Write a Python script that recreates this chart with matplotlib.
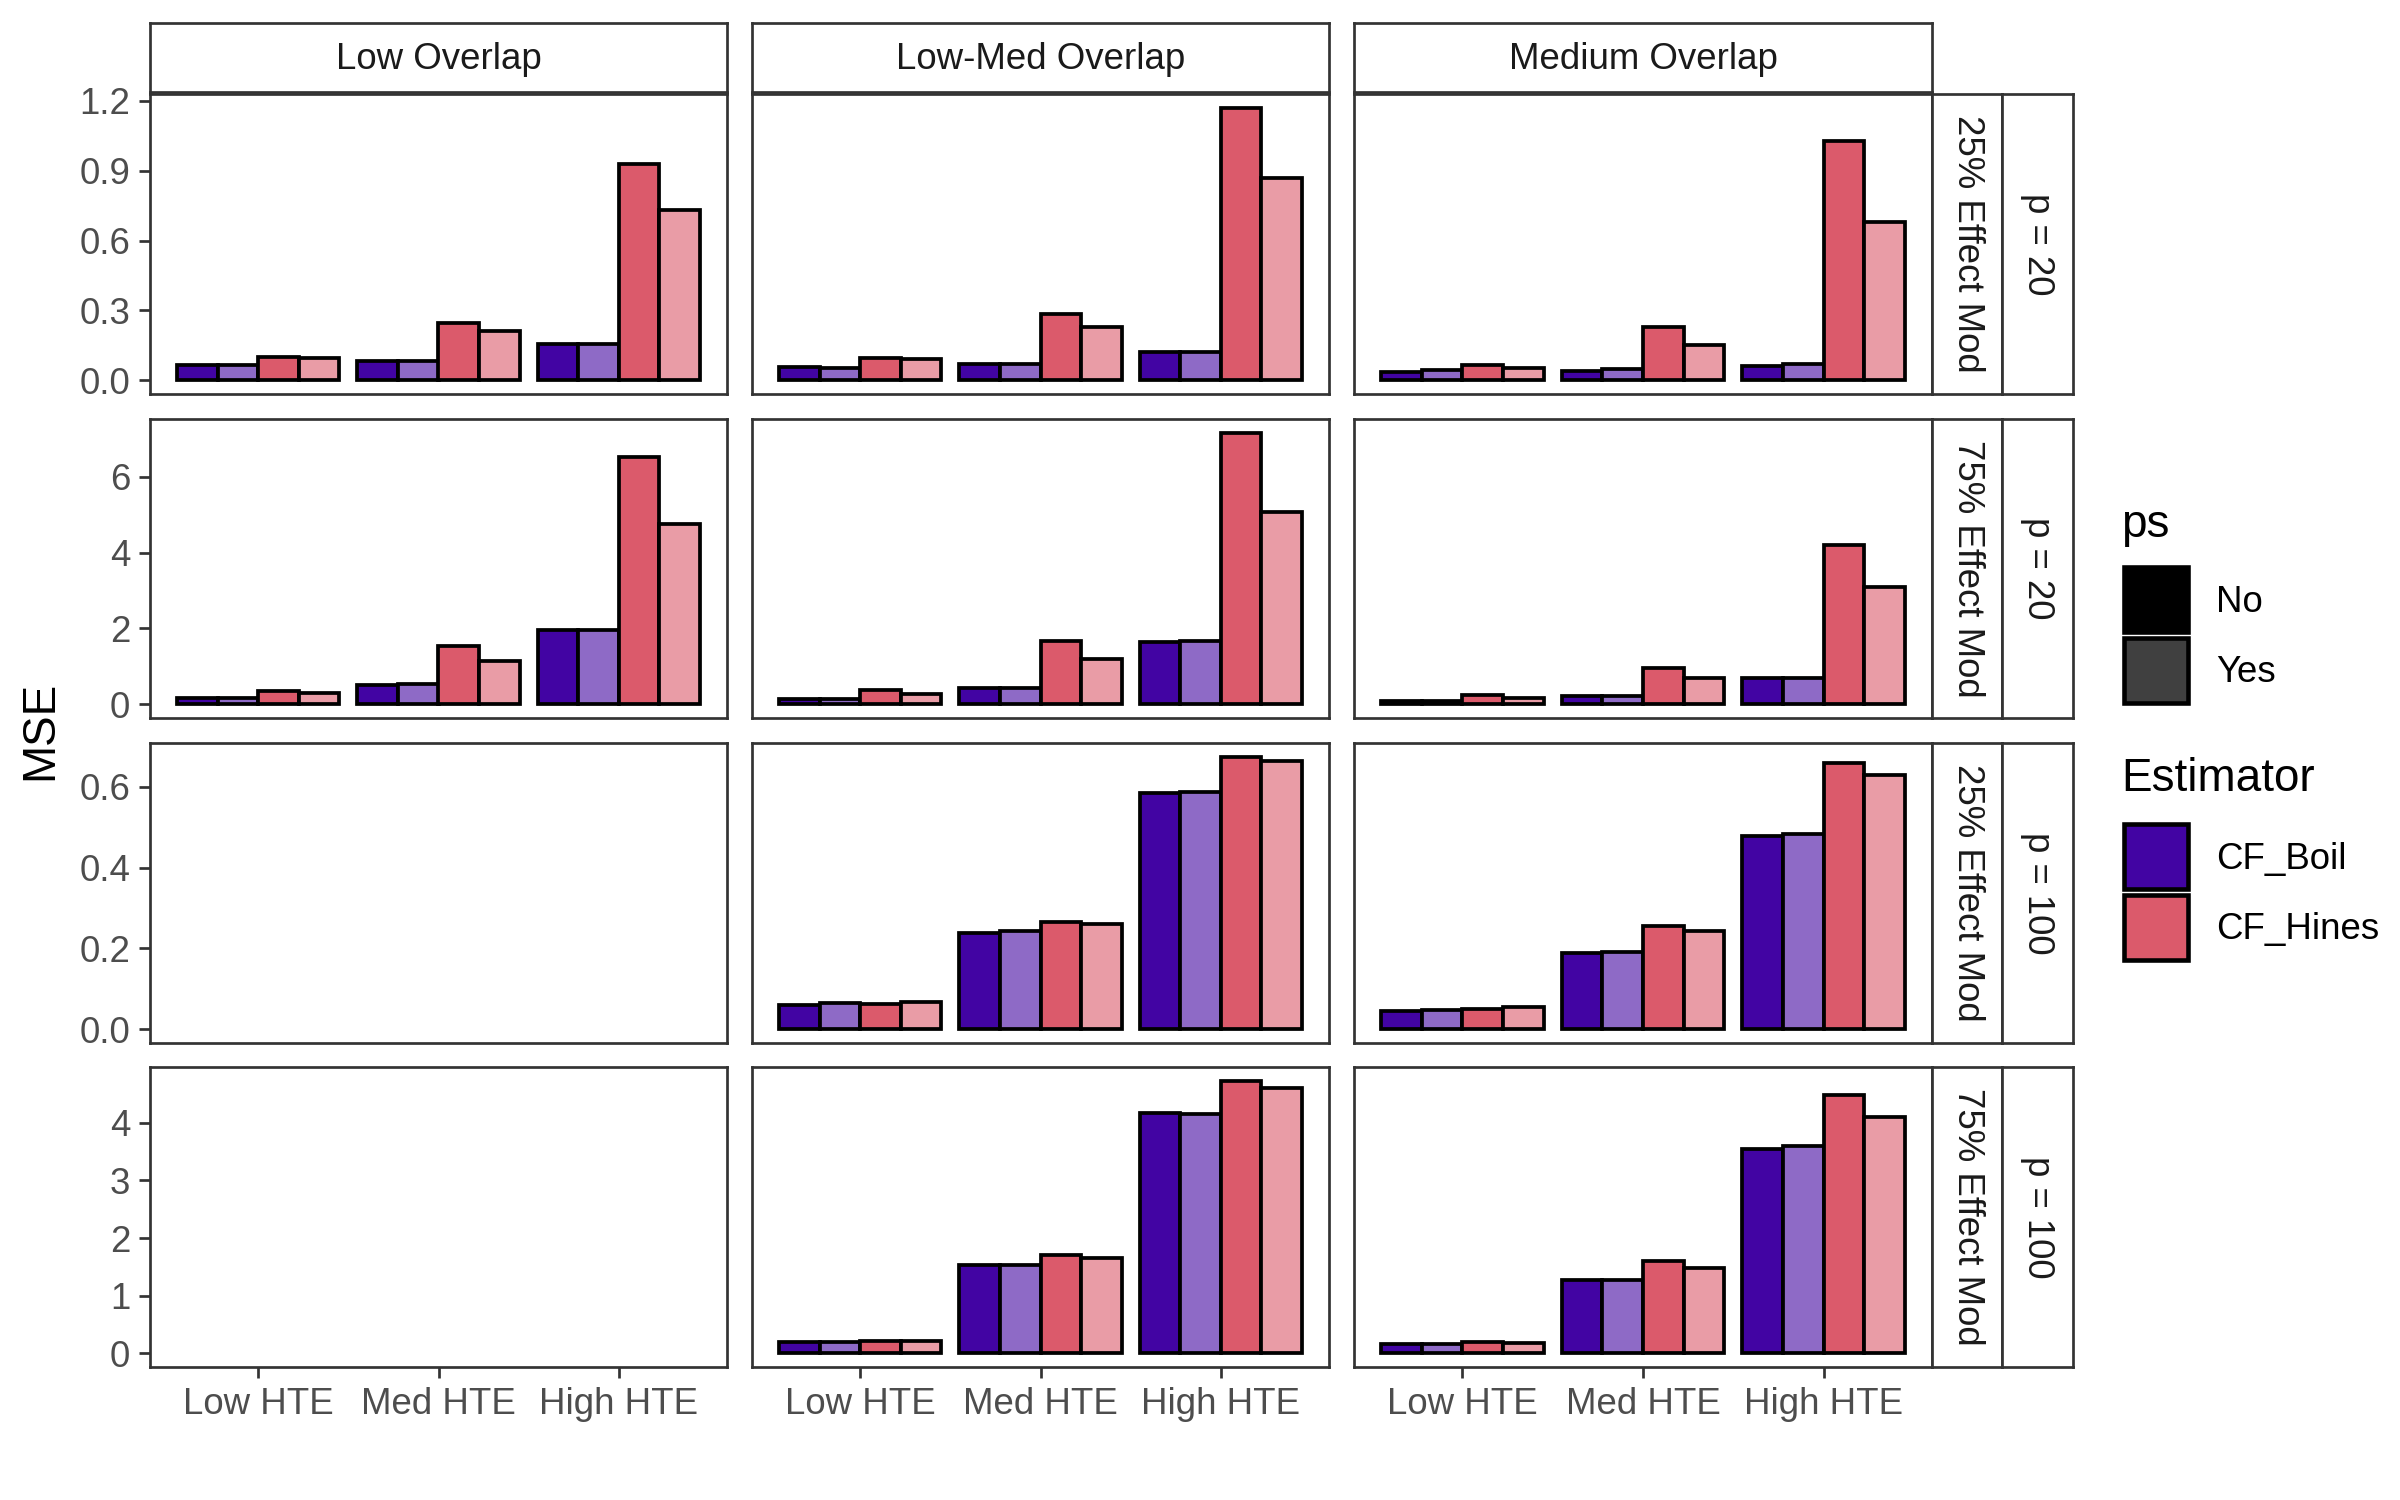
import matplotlib
matplotlib.use("Agg")
import matplotlib.pyplot as plt
from matplotlib.patches import Rectangle
import numpy as np

plt.rcParams['font.family'] = ['Liberation Sans', 'DejaVu Sans']

overlaps = ["Low Overlap", "Low-Med Overlap", "Medium Overlap"]
hte_levels = ["Low HTE", "Med HTE", "High HTE"]
effect_mod = ["25% Effect Mod", "75% Effect Mod", "25% Effect Mod", "75% Effect Mod"]
p_labels = ["p = 20", "p = 20", "p = 100", "p = 100"]
estimators = ["CF_Boil", "CF_Hines"]
ps_levels = ["No", "Yes"]

# bar order inside each HTE group: Boil/No, Boil/Yes, Hines/No, Hines/Yes
mse_p20_em25 = [
    [[0.068, 0.065, 0.100, 0.094], [0.083, 0.083, 0.246, 0.213], [0.154, 0.154, 0.928, 0.730]],
    [[0.058, 0.054, 0.097, 0.090], [0.071, 0.071, 0.285, 0.228], [0.121, 0.121, 1.170, 0.870]],
    [[0.037, 0.043, 0.065, 0.054], [0.040, 0.047, 0.229, 0.151], [0.060, 0.071, 1.027, 0.680]],
]
mse_p20_em75 = [
    [[0.175, 0.157, 0.360, 0.310], [0.515, 0.530, 1.550, 1.150], [1.960, 1.970, 6.510, 4.740]],
    [[0.150, 0.150, 0.370, 0.280], [0.440, 0.440, 1.680, 1.200], [1.640, 1.660, 7.160, 5.070]],
    [[0.100, 0.100, 0.245, 0.175], [0.210, 0.210, 0.960, 0.700], [0.700, 0.700, 4.190, 3.100]],
]
mse_p100_em25 = [
    None,
    [[0.061, 0.064, 0.063, 0.068], [0.237, 0.242, 0.266, 0.260], [0.585, 0.587, 0.674, 0.663]],
    [[0.046, 0.047, 0.051, 0.055], [0.189, 0.192, 0.255, 0.242], [0.477, 0.483, 0.659, 0.628]],
]
mse_p100_em75 = [
    None,
    [[0.200, 0.200, 0.220, 0.210], [1.530, 1.530, 1.710, 1.650], [4.170, 4.160, 4.730, 4.610]],
    [[0.167, 0.167, 0.200, 0.185], [1.280, 1.280, 1.610, 1.480], [3.550, 3.600, 4.480, 4.100]],
]
rows_data = [mse_p20_em25, mse_p20_em75, mse_p100_em25, mse_p100_em75]

y_ticks = [[0.0, 0.3, 0.6, 0.9, 1.2], [0, 2, 4, 6], [0.0, 0.2, 0.4, 0.6], [0, 1, 2, 3, 4]]
y_fmt = ["{:.1f}", "{:.0f}", "{:.1f}", "{:.0f}"]

bar_colors = ["#4204A3", "#8E6AC6", "#DB5A6B", "#E99CA6"]
est_colors = ["#4204A3", "#DB5A6B"]
ps_colors = ["#000000", "#404040"]

W, H = 2400, 1500
fig = plt.figure(figsize=(16, 10), dpi=150)


def px_axes(x0, y0, x1, y1, **kw):
    # pixel box (top-left origin) -> figure axes
    return fig.add_axes([x0 / W, 1 - y1 / H, (x1 - x0) / W, (y1 - y0) / H], **kw)


col_x = [(150, 727), (752, 1329), (1354, 1932)]
row_y = [(94, 394), (419, 718), (743, 1043), (1067, 1367)]
border = "#333333"
bw = 0.225
offsets = (np.arange(4) - 1.5) * bw
xs = np.arange(len(hte_levels)) + 1
fs = 17.6

for r, data in enumerate(rows_data):
    ymax = max(max(max(g) for g in panel) for panel in data if panel is not None)
    for c, panel in enumerate(data):
        ax = px_axes(col_x[c][0], row_y[r][0], col_x[c][1], row_y[r][1])
        if panel is not None:
            vals = np.array(panel)
            for k in range(4):
                ax.bar(xs + offsets[k], vals[:, k], width=bw, color=bar_colors[k],
                       edgecolor="black", linewidth=1.8, zorder=2)
        ax.set_xlim(0.4, 3.6)
        ax.set_ylim(-0.05 * ymax, 1.05 * ymax)
        for s in ax.spines.values():
            s.set_color(border)
            s.set_linewidth(1.3)
        ax.tick_params(colors=border, labelcolor="#4D4D4D", labelsize=fs,
                       length=5.5, width=1.3, pad=4)
        ax.set_yticks(y_ticks[r])
        if c == 0:
            ax.set_yticklabels([y_fmt[r].format(t) for t in y_ticks[r]])
        else:
            ax.tick_params(axis="y", left=False, labelleft=False)
        ax.set_xticks(xs)
        if r == len(rows_data) - 1:
            ax.set_xticklabels(hte_levels)
        else:
            ax.tick_params(axis="x", bottom=False, labelbottom=False)

        if r == 0:
            sax = px_axes(col_x[c][0], 23, col_x[c][1], 92)
            sax.set_xticks([]); sax.set_yticks([])
            for s in sax.spines.values():
                s.set_color(border); s.set_linewidth(1.3)
            sax.text(0.5, 0.47, overlaps[c], ha="center", va="center",
                     fontsize=fs, color="#1A1A1A", transform=sax.transAxes)

    for j, (x0, x1, lab) in enumerate([(1932, 2002, effect_mod[r]), (2002, 2073, p_labels[r])]):
        sax = px_axes(x0, row_y[r][0], x1, row_y[r][1])
        sax.set_xticks([]); sax.set_yticks([])
        for s in sax.spines.values():
            s.set_color(border); s.set_linewidth(1.3)
        sax.text(0.5, 0.5, lab, ha="center", va="center", rotation=-90,
                 fontsize=fs, color="#1A1A1A", transform=sax.transAxes)

fig.text(40 / W, 1 - 730 / H, "MSE", rotation=90, ha="center", va="center",
         fontsize=22, color="black")

# legends
lax = px_axes(2100, 480, 2400, 1000)
lax.set_xlim(2100, 2400)
lax.set_ylim(1000, 480)
lax.axis("off")

lax.text(2121, 525, "ps", fontsize=22, ha="left", va="center")
for i, lev in enumerate(ps_levels):
    y0 = 567 + i * 71
    lax.add_patch(Rectangle((2124, y0), 64, 65, facecolor=ps_colors[i],
                            edgecolor="black", linewidth=2.2))
    lax.text(2216, y0 + 35, lev, fontsize=fs, ha="left", va="center")

lax.text(2121, 779, "Estimator", fontsize=22, ha="left", va="center")
for i, est in enumerate(estimators):
    y0 = 824 + i * 71
    lax.add_patch(Rectangle((2124, y0), 64, 65, facecolor=est_colors[i],
                            edgecolor="black", linewidth=2.2))
    lax.text(2216, y0 + 35, est, fontsize=fs, ha="left", va="center")

fig.savefig("out.png", dpi=150, facecolor="white")
